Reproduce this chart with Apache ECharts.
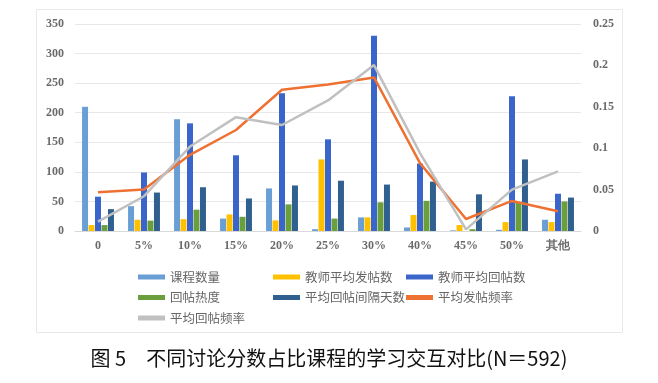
<!DOCTYPE html>
<html>
<head>
<meta charset="utf-8">
<script src="https://cdn.jsdelivr.net/npm/echarts@6/dist/echarts.min.js"></script>
<style>
html,body{margin:0;padding:0;background:#fff;}
#chart{width:658px;height:383px;}
</style>
</head>
<body>
<div id="chart"></div>
<script>
var categories = ['0','5%','10%','15%','20%','25%','30%','40%','45%','50%','其他'];
var courseCount   = [210, 42, 189, 21, 72, 3, 23, 6, 1, 2, 19];
var teacherPosts  = [10, 19, 20, 28, 18, 121, 23, 27, 10, 15, 15];
var teacherReplies= [58, 99, 182, 128, 233, 155, 330, 114, 0, 228, 63];
var replyHeat     = [10, 17.5, 36, 24, 45, 21, 48.5, 51, 3, 48, 50];
var replyInterval = [37, 65, 74, 55, 77, 85, 78.5, 83.5, 62, 121, 56.5];
var postFreq      = [0.0468, 0.050, 0.092, 0.122, 0.1706, 0.177, 0.1855, 0.082, 0.0145, 0.0363, 0.0238];
var replyFreq     = [0.0113, 0.042, 0.102, 0.1375, 0.128, 0.1577, 0.2004, 0.094, 0.002, 0.050, 0.072];
var leftTicks = {min: 0, max: 350, interval: 50};
var rightTicks = {min: 0, max: 0.25, interval: 0.05};
var caption = '图 5　不同讨论分数占比课程的学习交互对比(N＝592)';

var names = ['课程数量','教师平均发帖数','教师平均回帖数','回帖热度','平均回帖间隔天数','平均发帖频率','平均回帖频率'];
var colors = ['#6A9FD6','#FFC000','#3A66CC','#6B9E3C','#2F6090','#EE7132','#C0C0C0'];

var chart = echarts.init(document.getElementById('chart'), null, {renderer:'canvas'});
var axisFont = {fontFamily:'Liberation Serif', fontWeight:'bold', fontSize:12, color:'#6b6b6b'};
function bar(i, data){
  return {name:names[i], type:'bar', data:data, barWidth:6, barGap:'8%',
    itemStyle:{color:colors[i]}, yAxisIndex:0};
}
function line(i, data){
  return {name:names[i], type:'line', data:data, yAxisIndex:1, symbol:'none',
    lineStyle:{color:colors[i], width:2.5}, itemStyle:{color:colors[i]}};
}
var legendBase = {orient:'vertical', icon:'rect', itemWidth:27, itemHeight:5, itemGap:6.5,
  textStyle:{fontSize:12.5, color:'#666', lineHeight:14, fontFamily:'Noto Sans CJK SC'}, selectedMode:false};
chart.setOption({
  animation:false,
  backgroundColor:'#fff',
  graphic:[{type:'rect', shape:{x:36.5, y:9.5, width:586, height:323},
    style:{fill:'none', stroke:'#e8e8e8', lineWidth:1}, silent:true}],
  title:{text:caption, left:'center', top:343,
    textStyle:{fontFamily:'Noto Sans CJK SC', fontSize:20, fontWeight:'normal', color:'#111'}},
  grid:{left:75, right:77, top:24, bottom:152},
  legend:[
    Object.assign({}, legendBase, {left:133, top:265, data:[names[0], names[3], names[6]]}),
    Object.assign({}, legendBase, {left:268, top:265, data:[names[1], names[4]]}),
    Object.assign({}, legendBase, {left:401, top:265, data:[names[2], names[5]]})
  ],
  xAxis:{type:'category', data:categories,
    axisLine:{lineStyle:{color:'#d9d9d9'}}, axisTick:{show:false},
    axisLabel:Object.assign({margin:9, interval:0}, axisFont)},
  yAxis:[
    {type:'value', min:leftTicks.min, max:leftTicks.max, interval:leftTicks.interval,
      axisLine:{show:false}, axisTick:{show:false},
      splitLine:{lineStyle:{color:'#e8e8e8'}},
      axisLabel:Object.assign({margin:11}, axisFont)},
    {type:'value', min:rightTicks.min, max:rightTicks.max, interval:rightTicks.interval,
      axisLine:{show:false}, axisTick:{show:false}, splitLine:{show:false},
      axisLabel:Object.assign({margin:12}, axisFont)}
  ],
  series:[
    bar(0, courseCount), bar(1, teacherPosts), bar(2, teacherReplies),
    bar(3, replyHeat), bar(4, replyInterval),
    line(5, postFreq), line(6, replyFreq)
  ]
});
</script>
</body>
</html>
